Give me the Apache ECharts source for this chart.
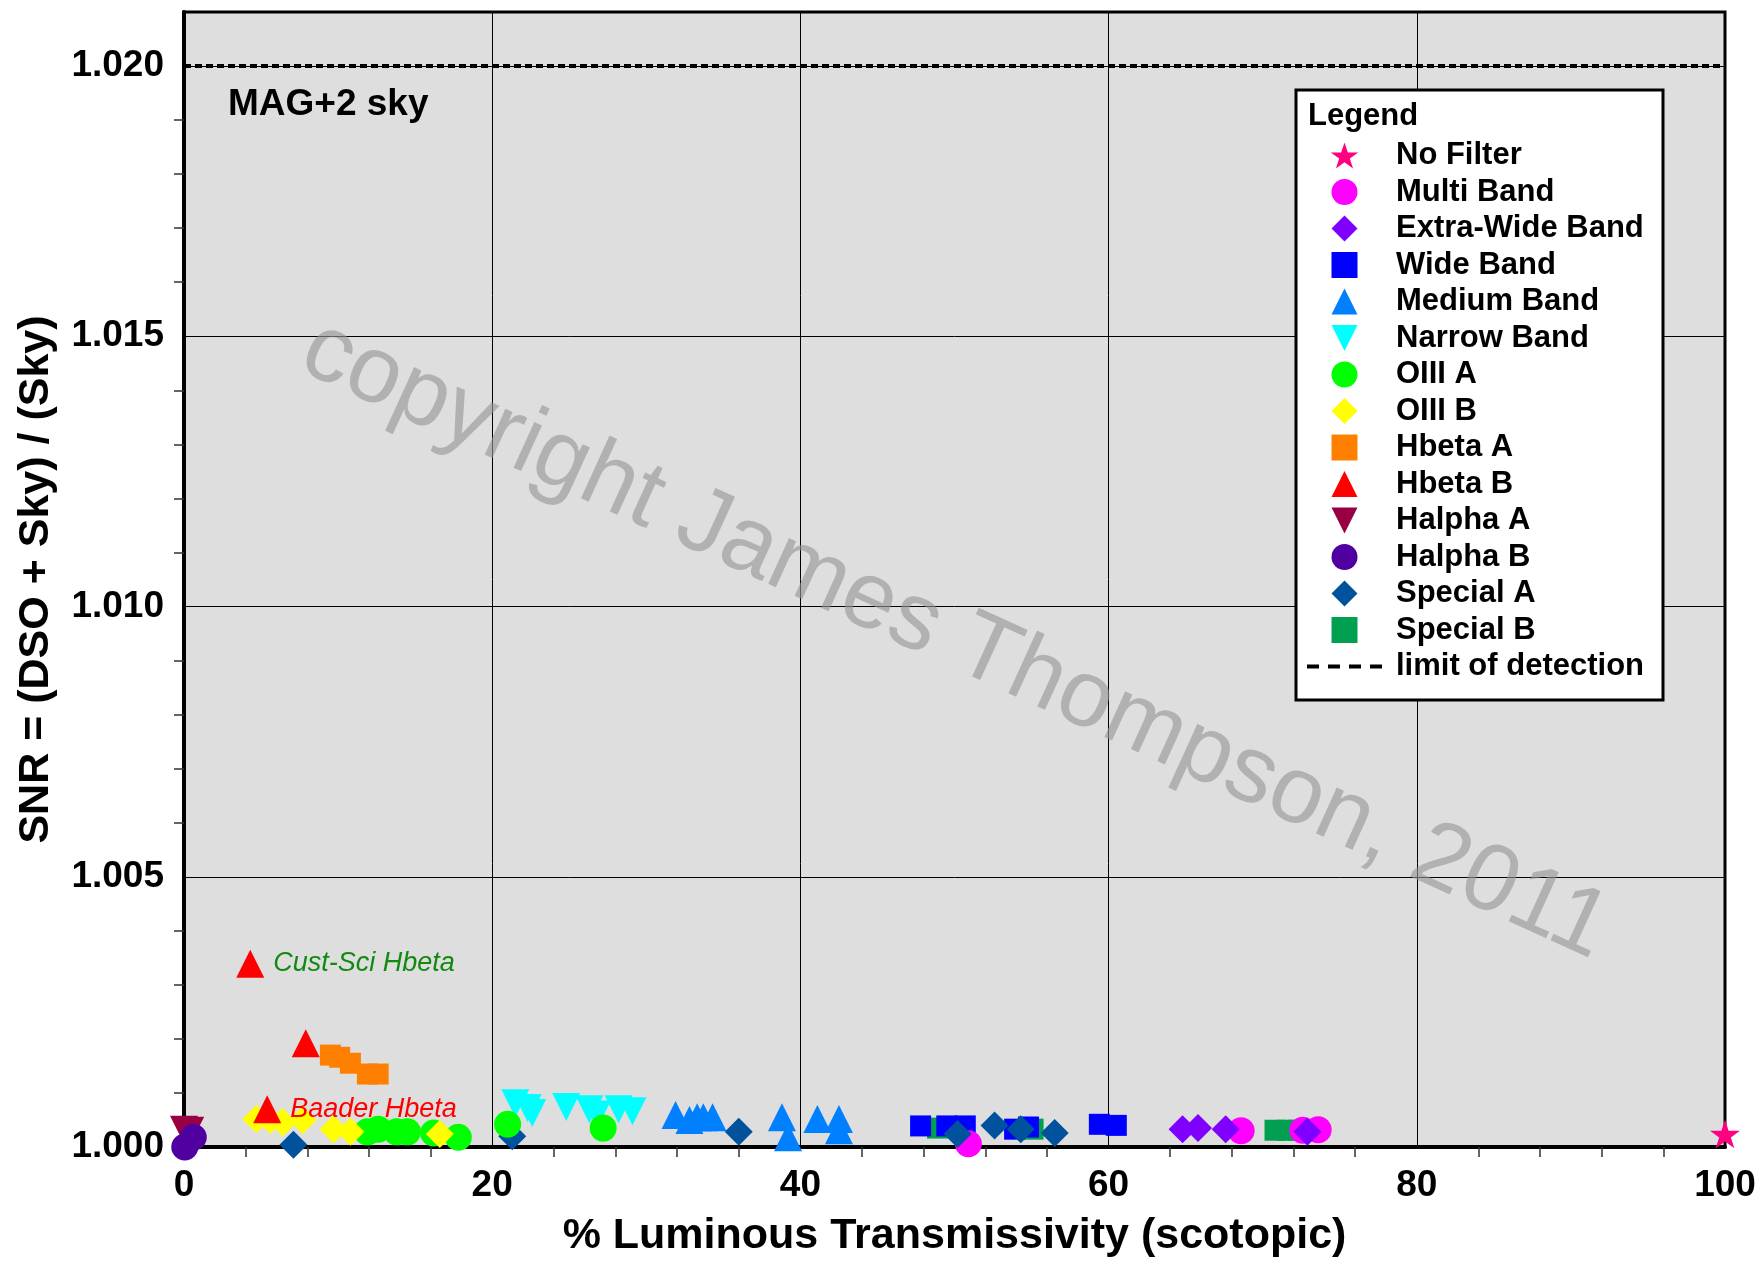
<!DOCTYPE html>
<html>
<head>
<meta charset="utf-8">
<title>SNR vs Luminous Transmissivity</title>
<script src="https://cdn.jsdelivr.net/npm/echarts@6/dist/echarts.min.js"></script>
<style>
  html, body { margin: 0; padding: 0; background: #fff; }
  #chart { width: 1762px; height: 1263px; }
</style>
</head>
<body>
<div id="chart"></div>
<script>
// data: [transmissivity %, SNR]
const noFilter = [[100, 1.00024]];
const multiBand = [[50.9, 1.00006], [68.6, 1.0003], [72.6, 1.00031], [73.6, 1.00032]];
const extraWideBand = [[64.8, 1.00033], [65.8, 1.00035], [67.6, 1.00033], [72.9, 1.00028]];
const wideBand = [[47.8, 1.00039], [49.5, 1.00039], [50.7, 1.00039], [53.9, 1.00033], [54.8, 1.00037], [59.4, 1.00042], [60.5, 1.0004]];
const mediumBand = [[31.9, 1.00059], [32.8, 1.0005], [33.3, 1.00055], [33.7, 1.00055], [34.3, 1.00055],
  [38.8, 1.00055], [39.2, 1.00018], [41.1, 1.00052], [42.5, 1.00052], [42.5, 1.00031]];
const narrowBand = [[21.5, 1.00081], [22.3, 1.00072], [22.6, 1.00063], [24.8, 1.00074], [26.3, 1.0007],
  [26.8, 1.0006], [28.2, 1.0007], [29.1, 1.00066]];
const oiiiA = [[11.9, 1.00028], [12.6, 1.00033], [13.8, 1.00028], [14.5, 1.00028], [16.2, 1.00026],
  [17.8, 1.00018], [21.0, 1.00042], [27.2, 1.00035]];
const oiiiB = [[4.7, 1.00052], [5.6, 1.0005], [6.4, 1.00046], [7.7, 1.0005], [9.7, 1.00033], [10.8, 1.00028], [16.6, 1.00024]];
const hbetaA = [[9.5, 1.0017], [10.1, 1.00166], [10.8, 1.00155], [11.9, 1.00135], [12.6, 1.00135]];
const hbetaB = [[4.3, 1.00339], [7.9, 1.00192], [5.4, 1.0007]];
const hbetaBNotes = ['Cust-Sci Hbeta', '', 'Baader Hbeta'];
const hbetaBNoteColors = ['#128a12', '', '#ff0000'];
const halphaA = [[0.0, 1.00032], [0.4, 1.0003]];
const halphaB = [[0.05, 1.0], [0.6, 1.00018]];
const specialA = [[7.1, 1.00004], [21.3, 1.0002], [36.0, 1.00028], [50.2, 1.00024], [52.6, 1.0004], [54.3, 1.00033], [56.5, 1.00026]];
const specialB = [[48.9, 1.00035], [55.1, 1.00033], [70.8, 1.00031], [71.6, 1.00031], [72.3, 1.00031]];
const detectionLimit = [[0, 1.02], [100, 1.02]];

const xTicks = { min: 0, max: 100, interval: 20 };
const yTicks = { min: 1.0, max: 1.021, interval: 0.005 };

const FONT = "'Liberation Sans', Arial, sans-serif";
// path symbols so the legend keeps their aspect
const STAR = 'path://M50,0 L61.8,35.4 L99,35.4 L69,57.3 L80.5,92.7 L50,70.8 L19.5,92.7 L31,57.3 L1,35.4 L38.2,35.4 Z';
const DOWN = 'path://M0,0 L10,0 L5,10 Z';
const UP = 'path://M5,0 L10,10 L0,10 Z';
const CIRCLE = 'path://M5,0 A5,5 0 1 1 5,10 A5,5 0 1 1 5,0 Z';
const DIAMOND = 'path://M5,0 L10,5 L5,10 L0,5 Z';
const SQUARE = 'path://M0,0 L10,0 L10,10 L0,10 Z';
const DASHES = 'path://M0,0h12v4h-12Z M21,0h12v4h-12Z M42,0h12v4h-12Z M63,0h12v4h-12Z';

function scatter(name, data, symbol, color, size, extra) {
  return Object.assign({
    name: name,
    type: 'scatter',
    data: data,
    symbol: symbol,
    symbolSize: size,
    symbolKeepAspect: true,
    itemStyle: { color: color, opacity: 1 },
    emphasis: { disabled: true }
  }, extra || {});
}

const legendNames = ['No Filter', 'Multi Band', 'Extra-Wide Band', 'Wide Band', 'Medium Band', 'Narrow Band',
  'OIII A', 'OIII B', 'Hbeta A', 'Hbeta B', 'Halpha A', 'Halpha B', 'Special A', 'Special B', 'limit of detection'];

const chart = echarts.init(document.getElementById('chart'), null, { renderer: 'canvas' });

const option = {
  backgroundColor: '#ffffff',
  animation: false,
  textStyle: { fontFamily: FONT },
  grid: {
    left: 184, right: 37, top: 12, bottom: 113,
    show: true,
    backgroundColor: '#dedede',
    borderColor: '#000',
    borderWidth: 3
  },
  xAxis: {
    type: 'value',
    min: xTicks.min, max: xTicks.max, interval: xTicks.interval,
    name: '% Luminous Transmissivity (scotopic)',
    nameLocation: 'middle',
    nameGap: 68,
    nameTextStyle: { color: '#000', fontSize: 43, fontWeight: 'bold', fontFamily: FONT },
    axisLine: { show: true, lineStyle: { color: '#000', width: 4 } },
    axisTick: { show: false },
    minorTick: { show: true, splitNumber: 5, length: 10, lineStyle: { color: '#333', width: 1.5 } },
    axisLabel: { color: '#000', fontSize: 37, fontWeight: 'bold', margin: 20, fontFamily: FONT },
    splitLine: { show: true, lineStyle: { color: '#000', width: 1 } }
  },
  yAxis: {
    type: 'value',
    min: yTicks.min, max: yTicks.max, interval: yTicks.interval,
    name: 'SNR = (DSO + Sky) / (Sky)',
    nameLocation: 'middle',
    nameGap: 126,
    nameTextStyle: { color: '#000', fontSize: 43, fontWeight: 'bold', fontFamily: FONT },
    axisLine: { show: true, lineStyle: { color: '#000', width: 4 } },
    axisTick: { show: false },
    minorTick: { show: true, splitNumber: 5, length: 10, lineStyle: { color: '#333', width: 1.5 } },
    axisLabel: {
      color: '#000', fontSize: 37, fontWeight: 'bold', margin: 20, fontFamily: FONT,
      showMaxLabel: false,
      formatter: v => v.toFixed(3)
    },
    splitLine: { show: true, lineStyle: { color: '#000', width: 1 } }
  },
  legend: {
    orient: 'vertical',
    left: 1296, top: 90,
    padding: [50, 19, 18, 11],
    backgroundColor: '#fff',
    borderColor: '#000',
    borderWidth: 3,
    itemWidth: 75,
    itemHeight: 26,
    itemGap: 5.5,
    selectedMode: false,
    textStyle: { color: '#000', fontSize: 31, fontWeight: 'bold', lineHeight: 30, fontFamily: FONT, padding: [0, 0, 0, 9] },
    data: legendNames.map(n => n === 'limit of detection'
      ? { name: n, icon: DASHES, itemStyle: { color: '#000' } }
      : { name: n })
  },
  graphic: [
    {
      type: 'text', z: 1, silent: true,
      x: 955, y: 640, rotation: -24.5 * Math.PI / 180,
      style: {
        text: 'copyright James Thompson, 2011',
        fill: 'rgba(150,150,150,0.62)',
        font: '95px ' + FONT,
        align: 'center', verticalAlign: 'middle'
      }
    },
    {
      type: 'text', z: 100, left: 228, top: 86,
      style: { text: 'MAG+2 sky', fill: '#000', font: 'bold 37px ' + FONT }
    },
    {
      type: 'text', z: 100, left: 1308, top: 101,
      style: { text: 'Legend', fill: '#000', font: 'bold 31px ' + FONT }
    }
  ],
  series: [
    {
      name: 'limit of detection',
      type: 'line',
      data: detectionLimit,
      symbol: 'none',
      z: 3,
      lineStyle: { color: '#000', width: 4, type: [7, 4] },
      itemStyle: { color: '#000' },
      emphasis: { disabled: true }
    },
    scatter('Special B', specialB, SQUARE, '#00a050', 21),
    scatter('Wide Band', wideBand, SQUARE, '#0000ff', 21),
    scatter('Multi Band', multiBand, CIRCLE, '#ff00ff', 27),
    scatter('Extra-Wide Band', extraWideBand, DIAMOND, '#8000ff', 28),
    scatter('Special A', specialA, DIAMOND, '#00529c', 28),
    scatter('Medium Band', mediumBand, UP, '#0080ff', 28),
    scatter('Narrow Band', narrowBand, DOWN, '#00ffff', 28),
    scatter('OIII A', oiiiA, CIRCLE, '#00ff00', 27),
    scatter('OIII B', oiiiB, DIAMOND, '#ffff00', 28),
    scatter('Hbeta A', hbetaA, SQUARE, '#ff8000', 21),
    scatter('Halpha A', halphaA, DOWN, '#990044', 28),
    scatter('Halpha B', halphaB, CIRCLE, '#5000a0', 27),
    scatter('Hbeta B', hbetaB.map((p, i) => ({
      value: p,
      label: {
        show: hbetaBNotes[i] !== '',
        position: 'right',
        distance: 9,
        formatter: hbetaBNotes[i],
        color: hbetaBNoteColors[i],
        fontSize: 27,
        fontStyle: 'italic',
        fontFamily: FONT
      }
    })), UP, '#ff0000', 28),
    scatter('No Filter', noFilter, STAR, '#ff0080', 30)
  ]
};

chart.setOption(option);
</script>
</body>
</html>
